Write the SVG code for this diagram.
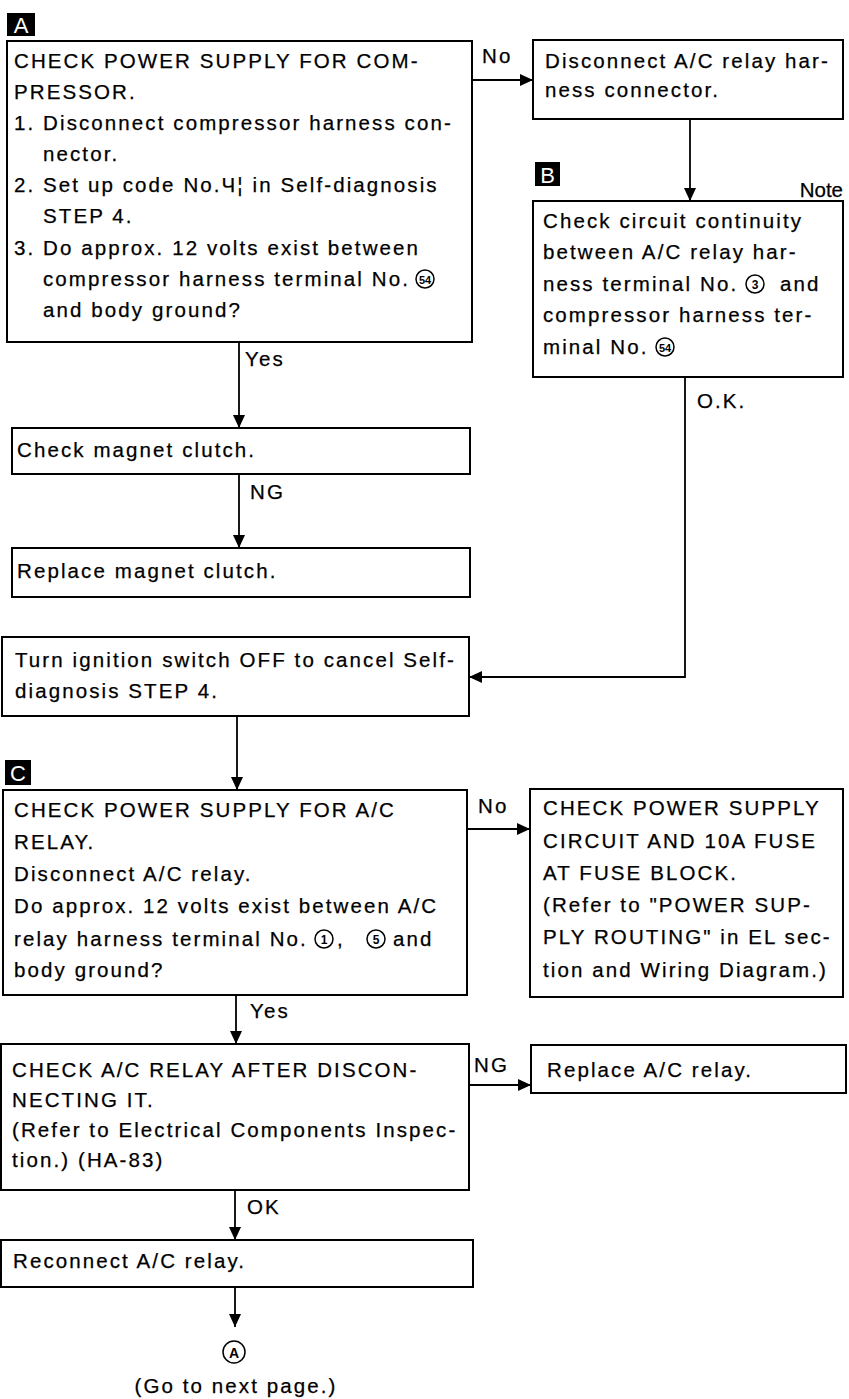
<svg xmlns="http://www.w3.org/2000/svg" width="849" height="1399" viewBox="0 0 849 1399">
<defs>
<style>
.t{font-family:"Liberation Sans",Arial,Helvetica,sans-serif;font-size:20.5px;letter-spacing:2.1px;fill:#000;stroke:#000;stroke-width:0.25}
.box{fill:#fff;stroke:#000;stroke-width:2}
.c{stroke:#000;stroke-width:1.8;fill:none}
.tag{fill:#000}
.tagt{font-family:"Liberation Sans",Arial,sans-serif;font-size:22px;fill:#fff;text-anchor:middle}
.cir{fill:none;stroke:#000;stroke-width:1.5}
.cn{font-family:"Liberation Sans",Arial,sans-serif;font-size:12px;font-weight:bold;fill:#000;text-anchor:middle}
</style>
<marker id="ah" markerUnits="userSpaceOnUse" markerWidth="14" markerHeight="12" refX="13" refY="6" orient="auto">
<path d="M0,0 L13,6 L0,12 Z" fill="#000"/>
</marker>
</defs>
<rect width="849" height="1399" fill="#fff"/>

<g id="connectors">
<line class="c" x1="472" y1="80" x2="533" y2="80" marker-end="url(#ah)"/>
<text class="t" x="482" y="63">No</text>
<line class="c" x1="690" y1="119" x2="690" y2="201" marker-end="url(#ah)"/>
<line class="c" x1="239" y1="342" x2="239" y2="428" marker-end="url(#ah)"/>
<text class="t" x="245" y="366">Yes</text>
<line class="c" x1="239" y1="474" x2="239" y2="548" marker-end="url(#ah)"/>
<text class="t" x="250" y="499">NG</text>
<polyline class="c" points="685,377 685,677 469,677" marker-end="url(#ah)"/>
<text class="t" x="697" y="408">O.K.</text>
<line class="c" x1="237" y1="716" x2="237" y2="790" marker-end="url(#ah)"/>
<line class="c" x1="467" y1="829" x2="530" y2="829" marker-end="url(#ah)"/>
<text class="t" x="478" y="813">No</text>
<line class="c" x1="236" y1="995" x2="236" y2="1044" marker-end="url(#ah)"/>
<text class="t" x="250" y="1018">Yes</text>
<line class="c" x1="469" y1="1085" x2="531" y2="1085" marker-end="url(#ah)"/>
<text class="t" x="474" y="1072">NG</text>
<line class="c" x1="235" y1="1190" x2="235" y2="1240" marker-end="url(#ah)"/>
<text class="t" x="247" y="1214">OK</text>
<line class="c" x1="235" y1="1287" x2="235" y2="1327" marker-end="url(#ah)"/>
</g>

<g id="tagA">
<rect class="tag" x="7" y="13" width="28" height="23"/>
<text class="tagt" x="21" y="33">A</text>
</g>
<g id="tagB">
<rect class="tag" x="535" y="162" width="25" height="24"/>
<text class="tagt" x="547.5" y="183">B</text>
</g>
<g id="tagC">
<rect class="tag" x="5" y="760" width="26" height="25"/>
<text class="tagt" x="18" y="781">C</text>
</g>

<g id="nodeA1">
<rect class="box" x="7" y="41" width="465" height="301"/>
<text class="t" x="14" y="68">CHECK POWER SUPPLY FOR COM-</text>
<text class="t" x="14" y="99">PRESSOR.</text>
<text class="t" x="14" y="130">1. Disconnect compressor harness con-</text>
<text class="t" x="43" y="161">nector.</text>
<text class="t" x="14" y="192">2. Set up code No.Ч¦ in Self-diagnosis</text>
<text class="t" x="43" y="223">STEP 4.</text>
<text class="t" x="14" y="255">3. Do approx. 12 volts exist between</text>
<text class="t" x="43" y="286">compressor harness terminal No.</text>
<circle class="cir" cx="425" cy="279" r="9"/>
<text class="cn" x="425" y="283.5" style="font-size:11px">54</text>
<text class="t" x="43" y="317">and body ground?</text>
</g>

<g id="nodeA2">
<rect class="box" x="533" y="40" width="310" height="79"/>
<text class="t" x="545" y="68">Disconnect A/C relay har-</text>
<text class="t" x="545" y="97">ness connector.</text>
</g>

<g id="nodeB">
<text class="t" x="843" y="197" style="text-anchor:end;letter-spacing:0">Note</text>
<rect class="box" x="533" y="201" width="310" height="176"/>
<text class="t" x="543" y="228">Check circuit continuity</text>
<text class="t" x="543" y="259">between A/C relay har-</text>
<text class="t" x="543" y="291">ness terminal No.</text>
<circle class="cir" cx="755" cy="284" r="9"/>
<text class="cn" x="755" y="288.5">3</text>
<text class="t" x="780" y="291">and</text>
<text class="t" x="543" y="322">compressor harness ter-</text>
<text class="t" x="543" y="354">minal No.</text>
<circle class="cir" cx="665" cy="347" r="9"/>
<text class="cn" x="665" y="351.5" style="font-size:11px">54</text>
</g>

<g id="nodeMagnet">
<rect class="box" x="12" y="428" width="458" height="46"/>
<text class="t" x="17" y="457">Check magnet clutch.</text>
</g>

<g id="nodeReplaceMagnet">
<rect class="box" x="12" y="548" width="458" height="49"/>
<text class="t" x="17" y="578">Replace magnet clutch.</text>
</g>

<g id="nodeTurn">
<rect class="box" x="2" y="637" width="467" height="79"/>
<text class="t" x="15" y="667">Turn ignition switch OFF to cancel Self-</text>
<text class="t" x="15" y="698">diagnosis STEP 4.</text>
</g>

<g id="nodeC1">
<rect class="box" x="3" y="790" width="464" height="205"/>
<text class="t" x="14" y="817">CHECK POWER SUPPLY FOR A/C</text>
<text class="t" x="14" y="849">RELAY.</text>
<text class="t" x="14" y="881">Disconnect A/C relay.</text>
<text class="t" x="14" y="913">Do approx. 12 volts exist between A/C</text>
<text class="t" x="14" y="946">relay harness terminal No.</text>
<circle class="cir" cx="324" cy="939" r="9"/>
<text class="cn" x="324" y="943.5">1</text>
<text class="t" x="337" y="946">,</text>
<circle class="cir" cx="376" cy="939" r="9"/>
<text class="cn" x="376" y="943.5">5</text>
<text class="t" x="393" y="946">and</text>
<text class="t" x="14" y="977">body ground?</text>
</g>

<g id="nodeC2">
<rect class="box" x="530" y="789" width="313" height="208"/>
<text class="t" x="543" y="815">CHECK POWER SUPPLY</text>
<text class="t" x="543" y="848">CIRCUIT AND 10A FUSE</text>
<text class="t" x="543" y="880">AT FUSE BLOCK.</text>
<text class="t" x="543" y="912">(Refer to "POWER SUP-</text>
<text class="t" x="543" y="944">PLY ROUTING" in EL sec-</text>
<text class="t" x="543" y="977">tion and Wiring Diagram.)</text>
</g>

<g id="nodeRelayCheck">
<rect class="box" x="1" y="1044" width="468" height="146"/>
<text class="t" x="12" y="1077">CHECK A/C RELAY AFTER DISCON-</text>
<text class="t" x="12" y="1107">NECTING IT.</text>
<text class="t" x="12" y="1137">(Refer to Electrical Components Inspec-</text>
<text class="t" x="12" y="1167">tion.) (HA-83)</text>
</g>

<g id="nodeReplaceRelay">
<rect class="box" x="531" y="1045" width="315" height="48"/>
<text class="t" x="547" y="1077">Replace A/C relay.</text>
</g>

<g id="nodeReconnect">
<rect class="box" x="1" y="1240" width="472" height="47"/>
<text class="t" x="13" y="1268">Reconnect A/C relay.</text>
</g>

<g id="nodeNext">
<circle class="cir" cx="234" cy="1352" r="11"/>
<text class="cn" x="234" y="1357.5" style="font-size:14px">A</text>
<text class="t" x="236" y="1393" style="text-anchor:middle">(Go to next page.)</text>
</g>
</svg>
